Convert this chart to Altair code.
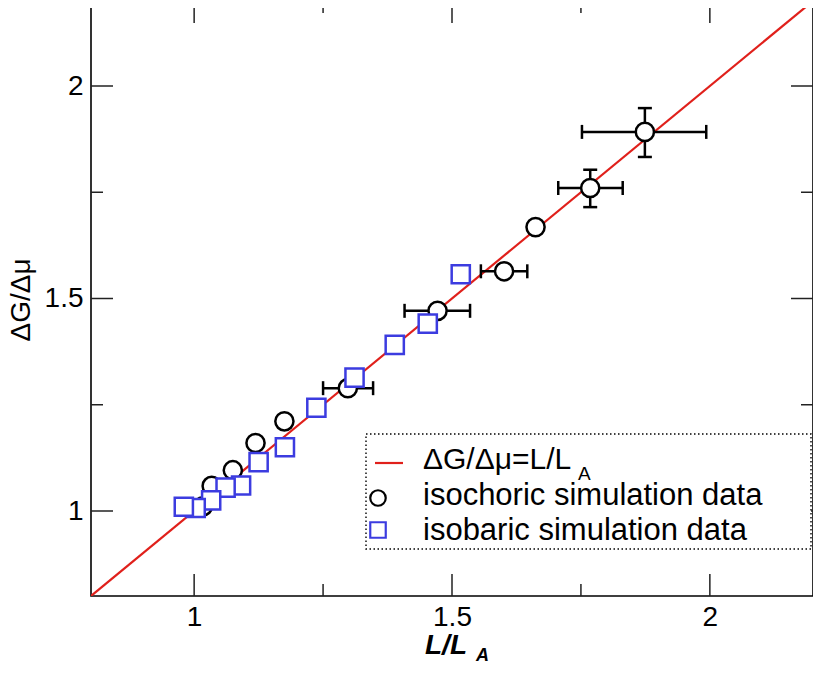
import altair as alt
import pandas as pd

# ---------------- data ----------------
iso_x = [1.874, 1.768, 1.662, 1.601, 1.472, 1.298, 1.175, 1.119, 1.075, 1.034, 1.017]
iso_y = [1.892, 1.760, 1.668, 1.564, 1.471, 1.289, 1.211, 1.160, 1.096, 1.059, 1.011]
bar_x = [1.517, 1.453, 1.389, 1.311, 1.237, 1.176, 1.125, 1.091, 1.061, 1.033, 1.003, 0.980]
bar_y = [1.557, 1.441, 1.391, 1.314, 1.243, 1.150, 1.115, 1.060, 1.055, 1.025, 1.007, 1.010]
xerr_x = [1.874, 1.768, 1.601, 1.472, 1.298]
xerr_y = [1.892, 1.760, 1.564, 1.471, 1.289]
xerr_lo = [1.752, 1.706, 1.556, 1.408, 1.250]
xerr_hi = [1.993, 1.831, 1.646, 1.535, 1.347]
yerr_x = [1.874, 1.768]
yerr_lo = [1.833, 1.715]
yerr_hi = [1.948, 1.803]
fit_x = [0.8, 2.2]
major_ticks = [1, 1.5, 2]
minor_ticks = [1.25, 1.75]

# ---------------- layout / style ----------------
W, H = 722, 595
FONT = "Liberation Sans"
RED = "#e0201b"
BLUE = "#3c3ce0"
MAJ, MIN = 22, 12

xs = alt.Scale(domain=[0.8, 2.2], nice=False, zero=False)
ys = alt.Scale(domain=[0.8, 2.2], nice=False, zero=False)
label_expr = "datum.value == 1 ? '1' : datum.value == 1.5 ? '1.5' : '2'"
xax = alt.Axis(values=major_ticks, labelExpr=label_expr, title=None, domain=False,
               ticks=False, tickSize=0, grid=False, labelPadding=7,
               labelFont=FONT, labelFontSize=28, labelColor="black")
yax = alt.Axis(values=major_ticks, labelExpr=label_expr, title=None, domain=False,
               ticks=False, tickSize=0, grid=False, labelPadding=8,
               labelFont=FONT, labelFontSize=28, labelColor="black")

def X(f):
    return alt.X(f, type="quantitative", scale=xs, axis=xax)

def Y(f):
    return alt.Y(f, type="quantitative", scale=ys, axis=yax)

one = pd.DataFrame({"d": [0]})

# fit line y = x
fit_df = pd.DataFrame({"x": fit_x, "y": fit_x})
fit = alt.Chart(fit_df).mark_line(color=RED, strokeWidth=2.2, clip=True).encode(x=X("x"), y=Y("y"))

# frame ticks (inward, on all four sides)
layers = [fit]
for vals, L in ((major_ticks, MAJ), (minor_ticks, MIN)):
    tdf = pd.DataFrame({"v": vals})
    base = alt.Chart(tdf).mark_rule(color="#222222", strokeWidth=1.5)
    layers.append(base.encode(x=X("v"), y=alt.value(H), y2=alt.value(H - L)))
    layers.append(base.encode(x=X("v"), y=alt.value(0), y2=alt.value(L)))
    layers.append(base.encode(y=Y("v"), x=alt.value(0), x2=alt.value(L)))
    layers.append(base.encode(y=Y("v"), x=alt.value(W), x2=alt.value(W - L)))

# error bars
xe = pd.DataFrame({"x": xerr_x, "y": xerr_y, "lo": xerr_lo, "hi": xerr_hi})
ye = pd.DataFrame({"x": yerr_x, "lo": yerr_lo, "hi": yerr_hi})
layers.append(alt.Chart(xe).mark_rule(color="black", strokeWidth=2.5).encode(
    x=X("lo"), x2="hi", y=Y("y")))
for f in ("lo", "hi"):
    layers.append(alt.Chart(xe).mark_tick(color="black", orient="vertical", size=14,
                                          thickness=2.5, opacity=1).encode(x=X(f), y=Y("y")))
layers.append(alt.Chart(ye).mark_rule(color="black", strokeWidth=2.5).encode(
    x=X("x"), y=Y("lo"), y2="hi"))
for f in ("lo", "hi"):
    layers.append(alt.Chart(ye).mark_tick(color="black", orient="horizontal", size=14,
                                          thickness=2.5, opacity=1).encode(x=X("x"), y=Y(f)))

# symbols
iso_df = pd.DataFrame({"x": iso_x, "y": iso_y})
bar_df = pd.DataFrame({"x": bar_x, "y": bar_y})
layers.append(alt.Chart(iso_df).mark_point(shape="circle", filled=False, fill="white",
                                           fillOpacity=1, stroke="black", strokeWidth=2.5,
                                           size=330, opacity=1).encode(x=X("x"), y=Y("y")))
layers.append(alt.Chart(bar_df).mark_point(shape="square", filled=False, fill="white",
                                           fillOpacity=1, stroke=BLUE, strokeWidth=2.5,
                                           size=330, opacity=1).encode(x=X("x"), y=Y("y")))

# legend (drawn by hand)
layers.append(alt.Chart(one).mark_rect(fill="white", stroke="black", strokeWidth=1.4,
                                       strokeDash=[1.5, 2.5]).encode(
    x=alt.value(275), x2=alt.value(W - 2), y=alt.value(433), y2=alt.value(548)))
layers.append(alt.Chart(one).mark_rule(color=RED, strokeWidth=2.2).encode(
    x=alt.value(284), x2=alt.value(312), y=alt.value(462)))
layers.append(alt.Chart(one).mark_point(shape="circle", filled=False, fill="white", fillOpacity=1,
                                        stroke="black", strokeWidth=2.2, size=240, opacity=1).encode(
    x=alt.value(287), y=alt.value(497)))
layers.append(alt.Chart(one).mark_point(shape="square", filled=False, fill="white", fillOpacity=1,
                                        stroke=BLUE, strokeWidth=2.2, size=240, opacity=1).encode(
    x=alt.value(287), y=alt.value(529)))

def txt(s, x, y, size, weight="normal", style="normal", align="left", angle=0, baseline="alphabetic"):
    return alt.Chart(one).mark_text(text=s, font=FONT, fontSize=size, fontWeight=weight,
                                    fontStyle=style, align=align, baseline=baseline,
                                    angle=angle, color="black").encode(
        x=alt.value(x), y=alt.value(y))

layers.append(txt("ΔG/Δμ=L/L", 332, 468, 30))
layers.append(txt("A", 487, 479, 19))
layers.append(txt("isochoric simulation data", 332, 504, 31))
layers.append(txt("isobaric simulation data", 332, 539, 31))

# axis titles
layers.append(txt("L/L", 334, 653, 28, weight="bold", style="italic"))
layers.append(txt("A", 385, 660, 18, weight="bold", style="italic"))
layers.append(txt("ΔG/Δμ", -69, 299, 28, angle=270, align="center", baseline="middle"))

chart = alt.layer(*layers).properties(
    width=W, height=H, autosize="none",
    padding={"left": 83, "top": -7, "right": 0, "bottom": 70},
).configure_view(stroke="black", strokeWidth=1.6)

chart.save("out.html", embed_options={"renderer": "svg", "actions": False})
